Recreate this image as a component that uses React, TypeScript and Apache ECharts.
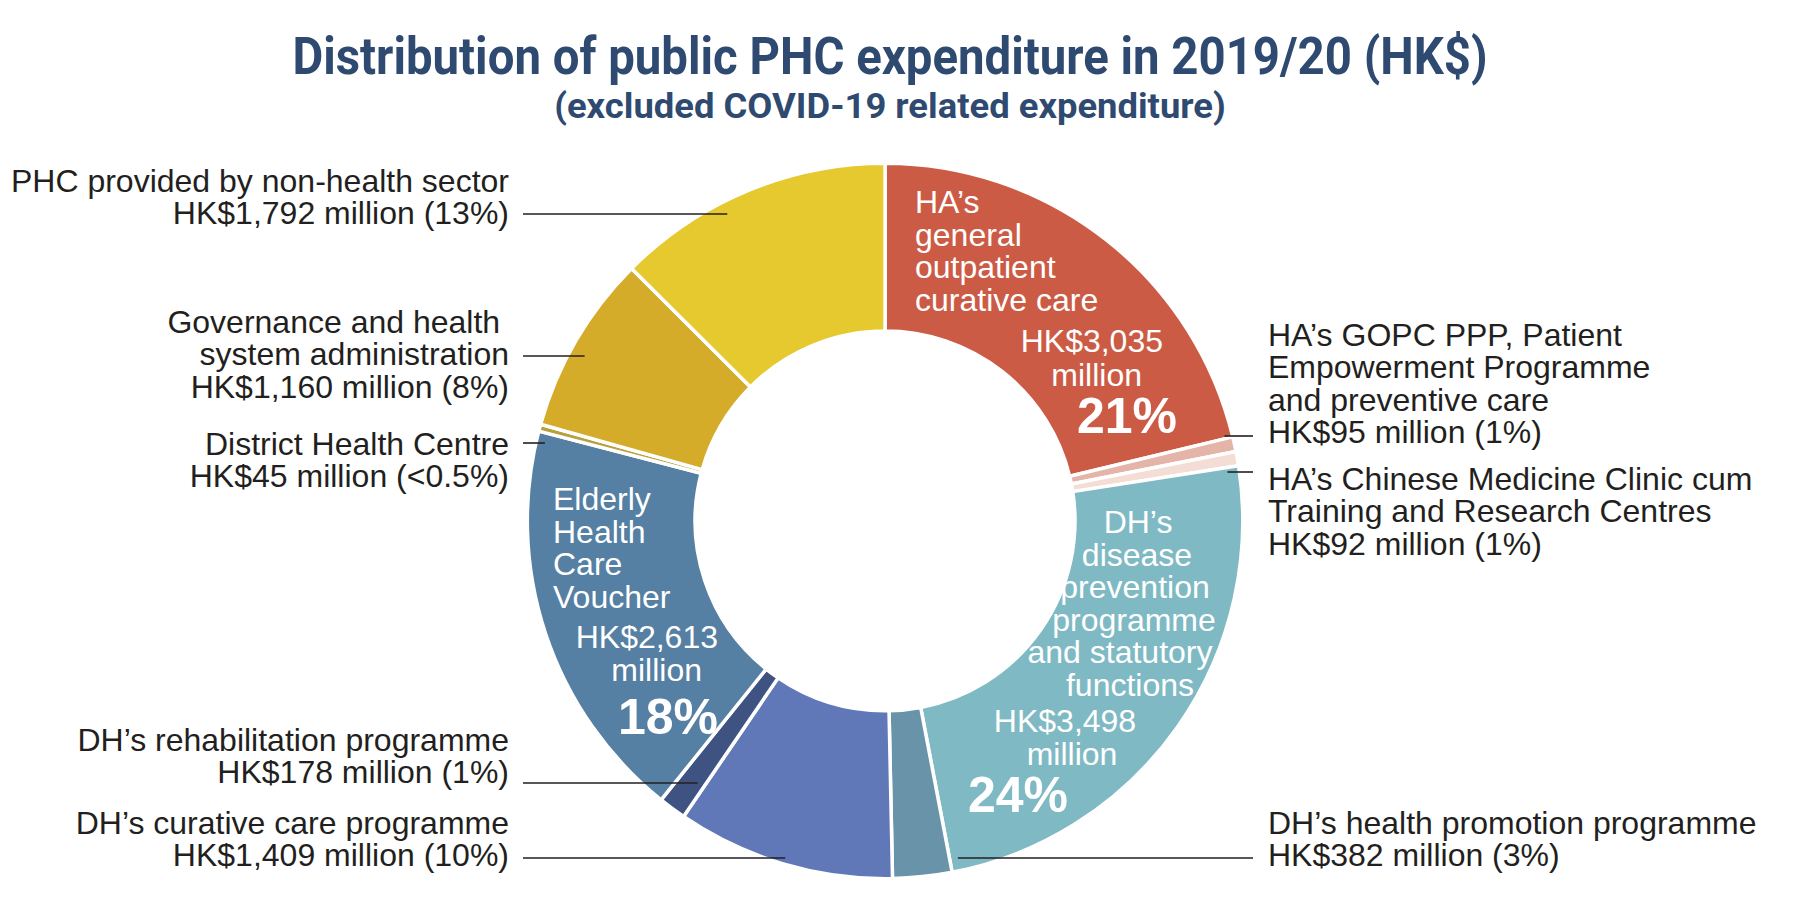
import React, { useEffect, useRef } from "react";
import * as echarts from "echarts";

// ---------- data ----------
const categories = [
  "HA’s general outpatient curative care",
  "HA’s GOPC PPP, Patient Empowerment Programme and preventive care",
  "HA’s Chinese Medicine Clinic cum Training and Research Centres",
  "DH’s disease prevention programme and statutory functions",
  "DH’s health promotion programme",
  "DH’s curative care programme",
  "DH’s rehabilitation programme",
  "Elderly Health Care Voucher",
  "District Health Centre",
  "Governance and health system administration",
  "PHC provided by non-health sector",
];
const valuesMillion = [3035, 95, 92, 3498, 382, 1409, 178, 2613, 45, 1160, 1792];
const shareLabels = ["21%", "1%", "1%", "24%", "3%", "10%", "1%", "18%", "<0.5%", "8%", "13%"];
const wrappedNames = [
  ["HA’s", "general", "outpatient", "curative care"],
  ["HA’s GOPC PPP, Patient", "Empowerment Programme", "and preventive care"],
  ["HA’s Chinese Medicine Clinic cum", "Training and Research Centres"],
  ["DH’s", "disease", "prevention", "programme", "and statutory", "functions"],
  ["DH’s health promotion programme"],
  ["DH’s curative care programme"],
  ["DH’s rehabilitation programme"],
  ["Elderly", "Health", "Care", "Voucher"],
  ["District Health Centre"],
  ["Governance and health ", "system administration"],
  ["PHC provided by non-health sector"],
];
const colors = [
  "#cc5b45", "#e4b4a8", "#f4ddd5", "#7fbac4", "#6893a9", "#6178b8",
  "#3f5383", "#557fa3", "#b8a03c", "#d5ab2a", "#e6c82f",
];
const titleText = "Distribution of public PHC expenditure in 2019/20 (HK$)";
const subtitleText = "(excluded COVID-19 related expenditure)";

// ---------- layout ----------
const W = 1800;
const H = 922;
const CENTER_PCT = [0.4917, 0.565];
const RADIUS_PCT = [0.412, 0.776];
const CX = CENTER_PCT[0] * W;
const CY = CENTER_PCT[1] * H;
const R_OUT = RADIUS_PCT[1] * (Math.min(W, H) / 2);
const FONT = "'Liberation Sans', Arial, sans-serif";
const TEXT_COLOR = "#231f20";
const LEFT_TEXT_X = 509;
const LEFT_LINE_X = 523;
const RIGHT_TEXT_X = 1268;
const RIGHT_LINE_X = 1253;

type Outer = { kind: "outer"; side: "left" | "right"; y: number; lineY: number; depth: number };
type Inner = {
  kind: "inner";
  x: number;
  top: number;
  width: number;
  nameAlign: string;
  namePads: number[];
  gap: number;
  aAlign: string;
  aPad: number[];
  aLh: number;
  bPad: number[];
  bLh: number;
  pPad: number[];
  pLh: number;
};

const layouts: (Outer | Inner)[] = [
  {
    kind: "inner", x: 915, top: 186, width: 262, nameAlign: "left", namePads: [0, 0, 0, 0],
    gap: 8, aAlign: "right", aPad: [0, 14, 0, 0], aLh: 34, bPad: [0, 35, 0, 0], bLh: 34,
    pPad: [0, 0, 0, 0], pLh: 48,
  },
  { kind: "outer", side: "right", y: 383.5, lineY: 436, depth: 8 },
  { kind: "outer", side: "right", y: 511, lineY: 472, depth: 12 },
  {
    kind: "inner", x: 904, top: 506, width: 360, nameAlign: "center",
    namePads: [108, 106, 102, 100, 72, 92],
    gap: 3, aAlign: "center", aPad: [0, 38, 0, 0], aLh: 33, bPad: [0, 24, 0, 0], bLh: 34,
    pPad: [0, 132, 0, 0], pLh: 48,
  },
  { kind: "outer", side: "right", y: 839, lineY: 858, depth: 47 },
  { kind: "outer", side: "left", y: 839, lineY: 858, depth: 20 },
  { kind: "outer", side: "left", y: 756, lineY: 783, depth: 56 },
  {
    kind: "inner", x: 553, top: 483, width: 165, nameAlign: "left", namePads: [0, 0, 0, 0],
    gap: 7, aAlign: "right", aPad: [0, 0, 0, 0], aLh: 33, bPad: [0, 16, 0, 0], bLh: 34,
    pPad: [0, 0, 0, 0], pLh: 60,
  },
  { kind: "outer", side: "left", y: 460, lineY: 443, depth: 9 },
  { kind: "outer", side: "left", y: 354, lineY: 356, depth: 17 },
  { kind: "outer", side: "left", y: 197, lineY: 214, depth: 26 },
];

const fmt = (v: number) => v.toLocaleString("en-US");

function fitScale(text: string, font: string, target: number) {
  const ctx = document.createElement("canvas").getContext("2d");
  if (!ctx) return 1;
  ctx.font = font;
  const w = ctx.measureText(text).width;
  return w > 0 ? target / w : 1;
}

function buildData() {
  return valuesMillion.map((v, i) => {
    const L = layouts[i];
    const base: any = {
      name: categories[i],
      value: v,
      itemStyle: { color: colors[i] },
    };
    if (L.kind === "inner") {
      const rich: any = {
        s: { fontSize: 4, lineHeight: L.gap },
        a: { fontSize: 32, lineHeight: L.aLh, align: L.aAlign, padding: L.aPad, color: "#fff", fontFamily: FONT },
        b: { fontSize: 32, lineHeight: L.bLh, align: L.aAlign, padding: L.bPad, color: "#fff", fontFamily: FONT },
        p: {
          fontSize: 50, fontWeight: "bold", lineHeight: L.pLh, align: L.aAlign, padding: L.pPad,
          color: "#fff", fontFamily: FONT,
        },
      };
      const lines: string[] = [];
      wrappedNames[i].forEach((ln, k) => {
        const key = "n" + k;
        rich[key] = {
          fontSize: 32, lineHeight: 32.5, align: L.nameAlign,
          padding: [0, 0, 0, L.namePads[k] || 0], color: "#fff", fontFamily: FONT,
        };
        lines.push(`{${key}|${ln}}`);
      });
      lines.push("{s| }");
      lines.push(`{a|HK$${fmt(v)}}`);
      lines.push("{b|million}");
      lines.push(`{p|${shareLabels[i]}}`);
      base.label = {
        position: "inside",
        formatter: lines.join("\n"),
        width: L.width,
        overflow: "none",
        rich,
      };
    } else {
      base.label = {
        position: "outside",
        formatter: wrappedNames[i].join("\n") + `\nHK$${fmt(v)} million (${shareLabels[i]})`,
      };
    }
    return base;
  });
}

function leaderEnds(L: Outer) {
  const dy = L.lineY - CY;
  const half = Math.sqrt(Math.max(R_OUT * R_OUT - dy * dy, 0));
  return L.side === "left"
    ? { from: CX - half + L.depth, to: LEFT_LINE_X }
    : { from: CX + half - L.depth, to: RIGHT_LINE_X };
}

function labelLayout(params: any) {
  const L = layouts[params.dataIndex];
  if (!L) return {};
  if (L.kind === "inner") {
    return { x: L.x, y: L.top, align: "left", verticalAlign: "top" };
  }
  return L.side === "left"
    ? { x: LEFT_TEXT_X, y: L.y, align: "right", verticalAlign: "middle" }
    : { x: RIGHT_TEXT_X, y: L.y, align: "left", verticalAlign: "middle" };
}

function leaderLines() {
  const out: any[] = [];
  layouts.forEach((L) => {
    if (L.kind !== "outer") return;
    const e = leaderEnds(L);
    out.push({
      type: "line",
      z: 100,
      silent: true,
      shape: { x1: e.from, y1: L.lineY, x2: e.to, y2: L.lineY },
      style: { stroke: TEXT_COLOR, lineWidth: 1.6 },
    });
  });
  return out;
}

export default function App() {
  const ref = useRef<HTMLDivElement>(null);
  useEffect(() => {
    if (!ref.current) return;
    const chart = echarts.init(ref.current, undefined, { renderer: "svg" });
    const titleFont = "bold 52px Roboto";
    const subFont = "bold 36px Roboto";
    const tScale = fitScale(titleText, titleFont, 1196);
    const sScale = fitScale(subtitleText, subFont, 672);
    chart.setOption({
      animation: false,
      backgroundColor: "#ffffff",
      graphic: [
        {
          type: "text",
          x: 890,
          y: 56,
          scaleX: tScale,
          style: {
            text: titleText,
            fill: "#2f4a70",
            font: titleFont,
            align: "center",
            verticalAlign: "middle",
            textAlign: "center",
            textVerticalAlign: "middle",
          },
        },
        {
          type: "text",
          x: 890,
          y: 106,
          scaleX: sScale,
          style: {
            text: subtitleText,
            fill: "#2f4a70",
            font: subFont,
            align: "center",
            verticalAlign: "middle",
            textAlign: "center",
            textVerticalAlign: "middle",
          },
        },
        ...leaderLines(),
      ],
      series: [
        {
          type: "pie",
          center: [CENTER_PCT[0] * 100 + "%", CENTER_PCT[1] * 100 + "%"],
          radius: [RADIUS_PCT[0] * 100 + "%", RADIUS_PCT[1] * 100 + "%"],
          startAngle: 90,
          clockwise: true,
          avoidLabelOverlap: false,
          itemStyle: { borderColor: "#ffffff", borderWidth: 3.5 },
          emphasis: { disabled: true },
          label: {
            show: true,
            color: TEXT_COLOR,
            fontFamily: FONT,
            fontSize: 32,
            lineHeight: 32.5,
            width: 620,
            overflow: "none",
          },
          labelLine: { show: false },
          labelLayout,
          data: buildData(),
        },
      ],
    });
    return () => chart.dispose();
  }, []);
  return (
    <div
      ref={ref}
      style={{ position: "fixed", left: 0, top: 0, width: W, height: H, background: "#fff" }}
    />
  );
}
